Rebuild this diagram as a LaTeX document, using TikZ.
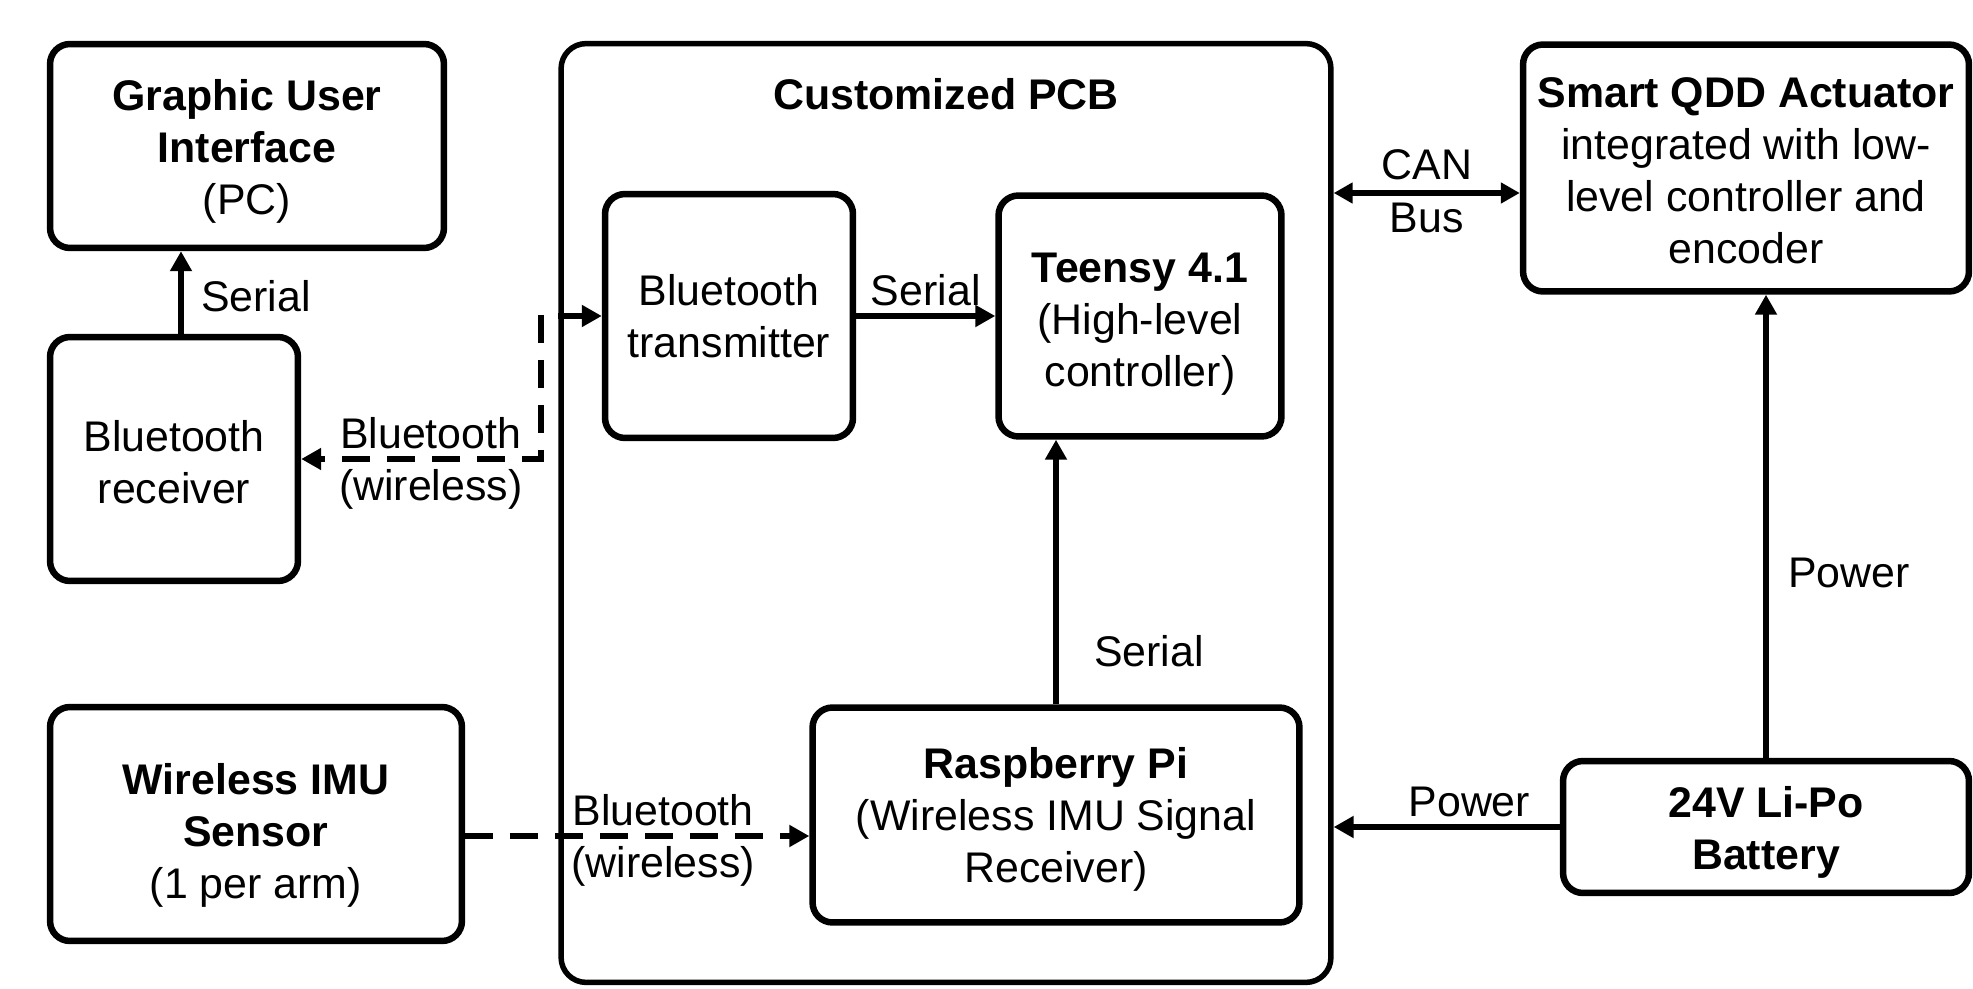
\documentclass[tikz,border=0pt]{standalone}
\usepackage{fontspec}
\setmainfont{Liberation Sans}
\usepackage{tikz}
\usetikzlibrary{arrows.meta, positioning, calc}

\newcommand{\diagfont}{\fontsize{24.4pt}{29.6pt}\selectfont}
% taller first line, pushes a box's text a little down
\newcommand{\droptext}[1]{\rule{0pt}{#1}}

\begin{document}
\begin{tikzpicture}[
  x=0.02cm, y=-0.02cm,
  box/.style={
    rectangle,
    draw,
    line width=0.13cm,
    rounded corners=0.4cm,
    align=center,
    font=\diagfont
  },
  pcbbox/.style={rectangle, draw, line width=0.11cm, rounded corners=0.5cm},
  lbl/.style={font=\diagfont, inner sep=4pt},
  arrow/.style={-{Triangle[length=0.4cm, width=0.42cm]}, line width=0.12cm},
  dblarrow/.style={{Triangle[length=0.38cm, width=0.4cm]}-{Triangle[length=0.38cm, width=0.4cm]}, line width=0.12cm},
  wireless/.style={arrow, line width=0.12cm, dash pattern=on 0.56cm off 0.34cm}
]
\useasboundingbox (0,0) rectangle (1973,989);

% Customized PCB (middle)
\node[pcbbox, minimum width=15.4cm, minimum height=18.78cm] (pcb) at (946,513) {};
\node[font=\diagfont\bfseries] (pcbtitle) at (946,94) {Customized PCB};

\node[box, minimum width=4.96cm, minimum height=4.88cm] (tx) at (729,316) {%
  Bluetooth\\
  transmitter
};

\node[box, minimum width=5.66cm, minimum height=4.82cm] (teensy) at (1140,316) {%
  \droptext{25.7pt}\textbf{Teensy 4.1}\\
  (High-level\\
  controller)
};

\node[box, minimum width=9.74cm, minimum height=4.3cm] (rpi) at (1056,815) {%
  \droptext{22.8pt}\textbf{Raspberry Pi}\\
  (Wireless IMU Signal\\
  Receiver)
};

% PC side (left)
\node[box, minimum width=7.88cm, minimum height=4.08cm] (gui) at (247,146) {%
  \droptext{23.5pt}\textbf{Graphic User}\\
  \textbf{Interface}\\
  (PC)
};

\node[box, minimum width=4.96cm, minimum height=4.88cm] (recv) at (174,459) {%
  \droptext{21.2pt}Bluetooth\\
  receiver
};

\node[box, minimum width=8.24cm, minimum height=4.68cm] (imu) at (256,824) {%
  \droptext{30.3pt}\textbf{Wireless IMU}\\
  \textbf{Sensor}\\
  (1 per arm)
};

% Actuator and battery (right)
\node[box, minimum width=8.92cm, minimum height=4.94cm] (qdd) at (1746,168) {%
  \droptext{20.6pt}\textbf{Smart QDD Actuator}\\
  integrated with low-\\
  level controller and\\
  encoder
};

\node[box, minimum width=8.12cm, minimum height=2.64cm] (bat) at (1766,827) {%
  \droptext{23.5pt}\textbf{24V Li-Po}\\
  \textbf{Battery}
};

% Links
\draw[arrow] ($(recv.north)+(7,0)$) -- ($(recv.north |- gui.south)+(7,0)$) node[lbl, pos=0.45, right=0.2cm] {Serial};

\coordinate (btbend) at (541,315);
\draw[wireless] (btbend) |- (recv.east)
  node[lbl, pos=0.73, above] {Bluetooth}
  node[lbl, pos=0.73, below] {(wireless)};
\draw[arrow] (tx.west -| pcb.west) -- (tx.west);

\draw[arrow] (tx.east) -- (tx.east -| teensy.west) node[lbl, midway, above] {Serial};
\draw[arrow] (rpi.north) -- (rpi.north |- teensy.south) node[lbl, pos=0.2, right=0.56cm] {Serial};

\coordinate (canbus) at (1427,193);
\draw[dblarrow] (canbus -| pcb.east) -- (canbus -| qdd.west)
  node[lbl, midway, above=2pt] {CAN}
  node[lbl, midway, below] {Bus};

\draw[arrow] (bat.north) -- (bat.north |- qdd.south) node[lbl, pos=0.4, right=0.24cm] {Power};
\draw[arrow] (bat.west) -- (bat.west -| pcb.east) node[lbl, pos=0.4, above] {Power};

\coordinate (imulink) at (640,836);
\draw[wireless] (imulink -| imu.east) -- (imulink -| rpi.west)
  node[lbl, pos=0.575, above] {Bluetooth}
  node[lbl, pos=0.575, below] {(wireless)};

\end{tikzpicture}
\end{document}
